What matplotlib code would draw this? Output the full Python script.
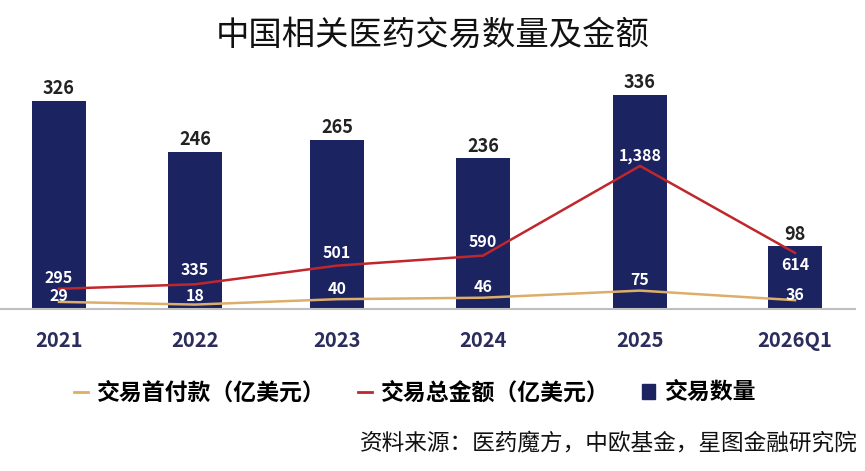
import matplotlib.pyplot as plt
from matplotlib.lines import Line2D
from matplotlib.patches import Patch

plt.rcParams['font.family'] = ['Noto Sans CJK SC', 'DejaVu Sans']

# data
years = ['2021', '2022', '2023', '2024', '2025', '2026Q1']
deal_count = [326, 246, 265, 236, 336, 98]
total_amount = [295, 335, 501, 590, 1388, 614]   # 亿美元
upfront = [29, 18, 40, 46, 75, 36]               # 亿美元

# layout (pixel-like x positions, bars are not evenly spaced in the original)
xpos = [59, 195, 337, 483, 640, 795]
bar_w = 54

navy = '#1c2361'
red = '#c0272d'
gold = '#dcae6a'

fig = plt.figure(figsize=(8.65, 4.71), dpi=100)
ax = fig.add_axes([0.0, 0.344, 855 / 865, 0.486])
ax2 = ax.twinx()
ax3 = ax.twinx()

ax.bar(xpos, deal_count, width=bar_w, color=navy, zorder=1)
ax.set_xlim(0, 855)
ax.set_ylim(0, 359)

ax2.plot(xpos, total_amount, color=red, lw=1.8)
ax2.set_ylim(115.6, 2151)
ax3.plot(xpos, upfront, color=gold, lw=1.8)
ax3.set_ylim(0, 935)

for a in (ax, ax2, ax3):
    a.set_yticks([])
    for s in a.spines.values():
        s.set_visible(False)
ax.spines['bottom'].set_visible(True)
ax.spines['bottom'].set_color('#bfbfbf')
ax.spines['bottom'].set_linewidth(1.5)

ax.set_xticks(xpos)
ax.set_xticklabels(years, fontsize=14.5, color='#2b2d5c', fontweight='bold')
ax.tick_params(axis='x', length=0, pad=15)

# labels
for x, v in zip(xpos, deal_count):
    ax.annotate(str(v), (x, v), xytext=(0, 2), textcoords='offset points',
                ha='center', va='bottom', fontsize=13, fontweight='bold', color='#222222')

red_offsets = [8, 10, 9, 10, 7, -9]
for x, v, dy in zip(xpos, total_amount, red_offsets):
    ax2.annotate(f'{v:,}', (x, v), xytext=(0, dy), textcoords='offset points',
                 ha='center', va='center', fontsize=11.5, fontweight='bold', color='white')

gold_offsets = [4, 6, 7, 8, 8, 4]
for x, v, dy in zip(xpos, upfront, gold_offsets):
    ax3.annotate(str(v), (x, v), xytext=(0, dy), textcoords='offset points',
                 ha='center', va='center', fontsize=11.5, fontweight='bold', color='white')

fig.text(0.5, 0.925, '中国相关医药交易数量及金额', ha='center', va='center',
         fontsize=24, color='#111111')

# legend
handles = [Line2D([], [], color=gold, lw=2),
           Line2D([], [], color=red, lw=2),
           Patch(color=navy)]
labels = ['交易首付款（亿美元）', '交易总金额（亿美元）', '交易数量']
fig.legend(handles, labels, loc='center', bbox_to_anchor=(0.48, 0.166), ncol=3,
           frameon=False, handlelength=0.6, handleheight=0.6,
           handletextpad=0.4, columnspacing=1.4,
           prop={'weight': 'bold', 'size': 16.5})

fig.text(0.992, 0.06, '资料来源：医药魔方，中欧基金，星图金融研究院', ha='right', va='center',
         fontsize=16.3, color='#111111')

fig.savefig('out.png', dpi=100)
